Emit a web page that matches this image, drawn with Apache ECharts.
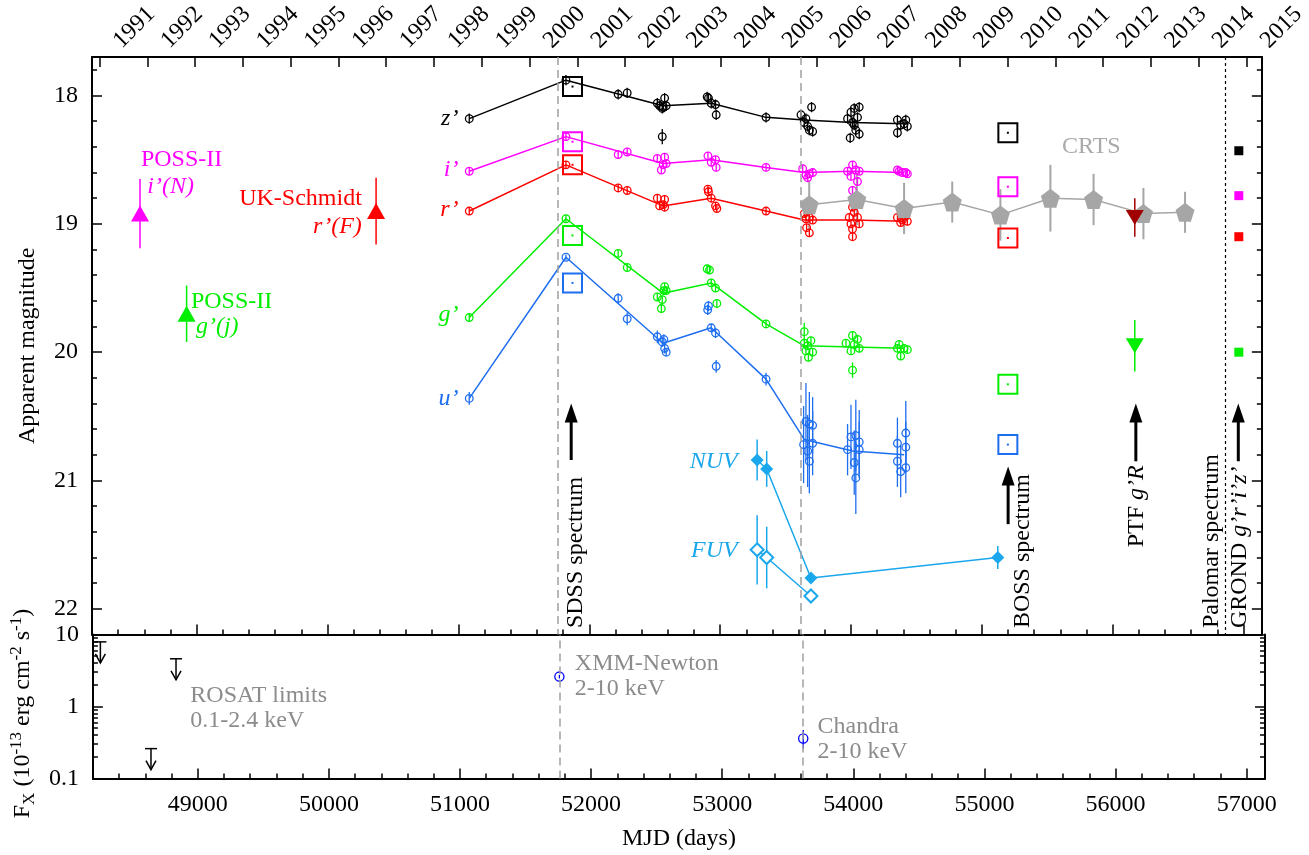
<!DOCTYPE html>
<html>
<head>
<meta charset="utf-8">
<script src="https://cdn.jsdelivr.net/npm/echarts@6/dist/echarts.min.js"></script>
<style>
html, body { margin: 0; background: #fff; }
#chart { width: 1309px; height: 855px; }
</style>
</head>
<body>
<div id="chart"></div>
<script>
// ---- data (MJD, magnitude [, error]) ----
const years = [1991, 1992, 1993, 1994, 1995, 1996, 1997, 1998, 1999, 2000, 2001, 2002, 2003,
  2004, 2005, 2006, 2007, 2008, 2009, 2010, 2011, 2012, 2013, 2014, 2015]
const magTicks = [18, 19, 20, 21, 22]
const fluxTicks = [0.1, 1, 10]
const mjdTicks = [49000, 50000, 51000, 52000, 53000, 54000, 55000, 56000, 57000]

// SDSS photometry
const sdssZ = [[51083, 18.18], [51822, 17.88], [52221, 17.99], [52290, 17.98],
  [52520, 18.06], [52576, 18.02], [52558, 18.10], [52588, 18.08], [52538, 18.08], [52565, 18.09], [52558, 18.32, 0.06],
  [52901, 18.01], [52911, 18.02], [52932, 18.06], [52965, 18.07], [52970, 18.15],
  [53351, 18.17],
  [53618, 18.15], [53656, 18.18], [53643, 18.21], [53669, 18.24], [53682, 18.27], [53707, 18.28], [53699, 18.09],
  [53974, 18.18], [54000, 18.13], [54025, 18.10], [54063, 18.09], [54050, 18.17], [54025, 18.23], [54063, 18.30], [53994, 18.33], [54037, 18.27], [54012, 18.21],
  [54355, 18.19], [54419, 18.19], [54380, 18.23], [54355, 18.29], [54431, 18.24], [54406, 18.22]]
const lineZ = [[51083, 18.18], [51822, 17.88], [52564, 18.08], [52932, 18.06], [53351, 18.17], [53643, 18.19], [54012, 18.21], [54406, 18.22]]

const sdssI = [[51083, 18.59], [51822, 18.32], [52221, 18.46], [52290, 18.44],
  [52520, 18.49], [52576, 18.48], [52551, 18.58], [52588, 18.53], [52565, 18.54],
  [52907, 18.47], [52932, 18.52], [52965, 18.50], [52970, 18.56],
  [53351, 18.56],
  [53631, 18.57], [53656, 18.62], [53682, 18.61], [53707, 18.60], [53669, 18.64],
  [53974, 18.59], [54012, 18.54], [54037, 18.58], [54063, 18.59], [54000, 18.63], [54050, 18.67], [54012, 18.74],
  [54355, 18.58], [54393, 18.60], [54419, 18.60], [54431, 18.61], [54368, 18.59]]
const lineI = [[51083, 18.59], [51822, 18.32], [52564, 18.53], [52932, 18.50], [53351, 18.56], [53643, 18.60], [54012, 18.59], [54406, 18.60]]

const sdssR = [[51083, 18.90], [51822, 18.54], [52221, 18.72], [52290, 18.74],
  [52520, 18.80], [52576, 18.81], [52538, 18.86], [52576, 18.87], [52565, 18.85],
  [52907, 18.73], [52911, 18.75], [52932, 18.80], [52965, 18.86], [52975, 18.88],
  [53351, 18.90],
  [53643, 18.92], [53656, 18.96], [53682, 18.95], [53707, 18.97], [53661, 19.03], [53682, 19.07],
  [54012, 18.87], [54025, 18.91], [53987, 18.95], [54050, 18.95], [54000, 19.00], [54063, 19.00], [54012, 19.04], [54012, 19.10],
  [54355, 18.95], [54393, 18.97], [54419, 18.94], [54431, 18.98], [54380, 18.99]]
const lineR = [[51083, 18.90], [51822, 18.54], [52564, 18.86], [52932, 18.80], [53351, 18.90], [53643, 18.97], [54012, 18.97], [54406, 18.98]]

const sdssG = [[51083, 19.73], [51822, 18.96], [52221, 19.23], [52290, 19.34],
  [52576, 19.49], [52570, 19.52], [52520, 19.57], [52558, 19.59], [52551, 19.66], [52588, 19.52],
  [52901, 19.35], [52919, 19.36], [52932, 19.46], [52965, 19.50], [52975, 19.62],
  [53351, 19.78],
  [53643, 19.84, 0.07], [53643, 19.93], [53669, 19.95], [53694, 19.91], [53656, 19.99], [53675, 20.04], [53707, 20.00],
  [53962, 19.93], [54012, 19.87], [54050, 19.90], [54025, 19.94], [54000, 19.99], [54063, 19.97], [54012, 20.14, 0.06],
  [54368, 19.94], [54406, 19.97], [54380, 20.03], [54431, 19.98], [54355, 19.97]]
const lineG = [[51083, 19.73], [51822, 18.96], [52564, 19.54], [52932, 19.46], [53351, 19.78], [53643, 19.95], [54012, 19.96], [54406, 19.97]]

const sdssU = [[51083, 20.36, 0.05], [51822, 19.26, 0.02], [52221, 19.58, 0.04], [52290, 19.74, 0.05],
  [52520, 19.88, 0.05], [52558, 19.92, 0.04], [52576, 19.97, 0.04], [52588, 20.00, 0.03], [52570, 19.90, 0.04],
  [52911, 19.64, 0.04], [52905, 19.67, 0.04], [52932, 19.81, 0.03], [52965, 19.85, 0.04], [52970, 20.11, 0.05],
  [53351, 20.21, 0.05],
  [53656, 20.54, 0.30], [53682, 20.56, 0.25], [53707, 20.57, 0.22], [53638, 20.72, 0.30], [53707, 20.71, 0.25], [53669, 20.77, 0.28], [53682, 20.85, 0.25],
  [54000, 20.66, 0.25], [54037, 20.65, 0.28], [54063, 20.70, 0.25], [53974, 20.76, 0.20], [54063, 20.76, 0.22], [54025, 20.86, 0.25], [54037, 20.98, 0.28],
  [54355, 20.71, 0.20], [54419, 20.63, 0.25], [54419, 20.74, 0.20], [54355, 20.85, 0.20], [54419, 20.90, 0.20], [54380, 20.93, 0.20]]
const lineU = [[51083, 20.36], [51822, 19.26], [52564, 19.93], [52932, 19.81], [53351, 20.21], [53643, 20.68], [54012, 20.77], [54406, 20.80]]

// synthetic magnitudes from the SDSS and BOSS spectra
const specZ = [[51872, 17.93], [55199, 18.29]]
const specI = [[51872, 18.36], [55199, 18.71]]
const specR = [[51872, 18.54], [55199, 19.11]]
const specG = [[51872, 19.09], [55199, 20.25]]
const specU = [[51872, 19.46], [55199, 20.72]]

// GROND
const grondZ = [[56964, 18.43]]
const grondI = [[56964, 18.78]]
const grondR = [[56964, 19.10]]
const grondG = [[56964, 20.00]]

// photographic plates
const possI = [[48567, 18.92, 0.27]]
const ukR = [[50371, 18.90, 0.26]]
const possG = [[48923, 19.70, 0.22]]

// CRTS
const crts = [[53681, 18.85, 0.19], [54045, 18.81, 0.20], [54406, 18.88, 0.20], [54774, 18.83, 0.16], [55142, 18.93, 0.20],
  [55524, 18.80, 0.26], [55854, 18.81, 0.20], [56235, 18.92, 0.20], [56553, 18.91, 0.16]]

// PTF
const ptfR = [[56169, 18.95, 0.15]]
const ptfG = [[56169, 19.95, 0.20]]

// GALEX
const nuv = [[53283, 20.84, 0.16], [53356, 20.91, 0.14], [53694, 21.76, 0.03], [55122, 21.60, 0.09]]
const fuv = [[53283, 21.54, 0.27], [53356, 21.60, 0.24], [53694, 21.90, 0.03]]

// X-ray flux (1e-13 erg/cm2/s): MJD, value, low, high
const xmm = [[51758, 2.6, 2.45, 2.75]]
const chandra = [[53618, 0.36, 0.26, 0.47]]
const rosatLimits = [[48257, 7.9], [48643, 0.26], [48834, 4.6]]

// spectra / epochs: MJD, arrow base, arrow tip
const specArrows = [[51862, 20.84, 20.40], [55201, 21.34, 20.89], [56177, 20.85, 20.40], [56960, 20.85, 20.40]]
const xmmDate = 51758
const chandraDate = 53613
const palomarDate = 56858

// ---- style ----
const FONT = '"Liberation Serif", "Times New Roman", serif'
const zc = "#000000", ic = "#ff00ff", rc = "#ff0000", gc = "#00ee00", uc = "#1e6ef0"
const uvc = "#1aa7ec", crtsc = "#a6a6a6", ptfc = "#a00000", xc = "#0000ff", notec = "#8c8c8c"

const X0 = 48200, X1 = 57140
const minor200 = []
for (let v = X0; v <= 57100; v += 200) minor200.push(v)
const minorMag = []
for (let i = 0; i <= 22; i++) minorMag.push(Math.round((17.8 + 0.2 * i) * 10) / 10)
const minorFlux = [0.2, 0.3, 0.4, 0.5, 0.6, 0.7, 0.8, 0.9, 2, 3, 4, 5, 6, 7, 8, 9]
const yearTicks = years.map((y) => 48257 + (y - 1991) * 365.25)
const LABEL_SHIFT = 72
const yearLabels = yearTicks.map((v) => v + LABEL_SHIFT)

const frame = { show: true, onZero: false, lineStyle: { color: "#000", width: 2 } }
function ax(base, ticks, len, line, extra) {
  return Object.assign({
    type: "value",
    splitLine: { show: false },
    axisLine: line ? frame : { show: false, onZero: false },
    axisTick: { show: true, inside: true, length: len, customValues: ticks, lineStyle: { color: "#000", width: 1.5 } },
    axisLabel: { show: false }
  }, base, extra || {})
}
const lab = { show: true, color: "#000", fontFamily: FONT, fontSize: 24 }

const xAxes = [
  ax({ gridIndex: 0, position: "bottom", min: X0, max: X1 }, mjdTicks, 10, true),
  ax({ gridIndex: 0, position: "bottom", min: X0, max: X1 }, minor200, 5, false),
  ax({ gridIndex: 0, position: "top", min: X0, max: X1 }, yearTicks, 10, true, {
    axisLabel: Object.assign({}, lab, {
      customValues: yearLabels, rotate: -45, margin: 21, verticalAlign: "top",
      formatter: (v) => String(Math.round((v - LABEL_SHIFT - 48257) / 365.25) + 1991)
    })
  }),
  ax({ gridIndex: 1, position: "bottom", min: X0, max: X1 }, mjdTicks, 10, true, {
    axisLabel: Object.assign({}, lab, { customValues: mjdTicks, margin: 14, formatter: (v) => String(v) }),
    name: "MJD (days)", nameLocation: "middle", nameGap: 48,
    nameTextStyle: { color: "#000", fontFamily: FONT, fontSize: 24 }
  }),
  ax({ gridIndex: 1, position: "bottom", min: X0, max: X1 }, minor200, 5, false)
]

const magBase = { gridIndex: 0, min: 17.7, max: 22.2, inverse: true }
const fluxBase = { gridIndex: 1, type: "log", logBase: 10, min: 0.1, max: 10 }
const yAxes = [
  ax(Object.assign({ position: "left" }, magBase), magTicks, 10, true, {
    axisLabel: Object.assign({}, lab, { customValues: magTicks, margin: 14 }),
    name: "Apparent magnitude", nameLocation: "middle", nameGap: 52, nameRotate: 90,
    nameTextStyle: { color: "#000", fontFamily: FONT, fontSize: 24 }
  }),
  ax(Object.assign({ position: "left" }, magBase), minorMag, 5, false),
  ax(Object.assign({ position: "right" }, magBase), magTicks, 10, true),
  ax(Object.assign({ position: "right" }, magBase), minorMag, 5, false),
  ax(Object.assign({ position: "left" }, fluxBase), fluxTicks, 10, true, {
    type: "log",
    axisLabel: Object.assign({}, lab, {
      customValues: fluxTicks, margin: 14,
      formatter: (v) => (v >= 1 ? String(Math.round(v)) : String(+v.toFixed(2)))
    }),
    name: "F{sub|X} (10{sup|-13} erg cm{sup|-2} s{sup|-1})",
    nameLocation: "middle", nameGap: 50, nameRotate: 90,
    nameTextStyle: {
      color: "#000", fontFamily: FONT, fontSize: 24, lineHeight: 30, padding: [0, 14, 0, 0],
      rich: {
        sub: { fontFamily: FONT, fontSize: 17, lineHeight: 15, verticalAlign: "bottom", color: "#000" },
        sup: { fontFamily: FONT, fontSize: 17, lineHeight: 15, verticalAlign: "top", color: "#000" }
      }
    }
  }),
  ax(Object.assign({ position: "left" }, fluxBase), minorFlux, 5, false, { type: "log" }),
  ax(Object.assign({ position: "right" }, fluxBase), fluxTicks, 10, true, { type: "log" }),
  ax(Object.assign({ position: "right" }, fluxBase), minorFlux, 5, false, { type: "log" })
]

// ---- series builders ----
function lineSeries(data, color, extra) {
  return Object.assign({
    type: "line", xAxisIndex: 0, yAxisIndex: 0, data, symbol: "none",
    lineStyle: { color, width: 1.5 }, itemStyle: { color }, z: 2, silent: true
  }, extra || {})
}

// open circle with vertical error bar; data rows [x, value, low, high]
function circSeries(rows, color, xi, yi, r, extra) {
  return Object.assign({
    type: "custom", xAxisIndex: xi, yAxisIndex: yi, silent: true, z: 3,
    data: rows,
    renderItem(params, api) {
      const x = api.value(0)
      const c = api.coord([x, api.value(1)])
      const a = api.coord([x, api.value(2)])
      const b = api.coord([x, api.value(3)])
      return {
        type: "group",
        children: [
          { type: "line", shape: { x1: a[0], y1: a[1], x2: b[0], y2: b[1] }, style: { stroke: color, lineWidth: 1.3 } },
          { type: "circle", shape: { cx: c[0], cy: c[1], r }, style: { fill: "none", stroke: color, lineWidth: 1.3 } }
        ]
      }
    }
  }, extra || {})
}
function magRows(pts, err) {
  return pts.map((p) => {
    const e = p[2] != null ? p[2] : err
    return [p[0], p[1], p[1] - e, p[1] + e]
  })
}

// vertical error bars; data rows [x, value, err]
function errSeries(pts, color, width, xi, yi) {
  return {
    type: "custom", xAxisIndex: xi || 0, yAxisIndex: yi || 0, silent: true, z: 2,
    data: pts.map((p) => [p[0], p[1] - p[2], p[1] + p[2]]),
    renderItem(params, api) {
      const a = api.coord([api.value(0), api.value(1)])
      const b = api.coord([api.value(0), api.value(2)])
      return { type: "line", shape: { x1: a[0], y1: a[1], x2: b[0], y2: b[1] }, style: { stroke: color, lineWidth: width } }
    }
  }
}

// open square with a central dot
function squareSeries(pts, color) {
  return {
    type: "custom", xAxisIndex: 0, yAxisIndex: 0, silent: true, z: 4,
    data: pts,
    renderItem(params, api) {
      const c = api.coord([api.value(0), api.value(1)])
      return {
        type: "group",
        children: [
          { type: "rect", shape: { x: c[0] - 9.5, y: c[1] - 9.5, width: 19, height: 19 }, style: { fill: "none", stroke: color, lineWidth: 2 } },
          { type: "rect", shape: { x: c[0] - 1, y: c[1] - 1, width: 2, height: 2 }, style: { fill: color } }
        ]
      }
    }
  }
}

function scatter(pts, color, symbol, size, extra) {
  return Object.assign({
    type: "scatter", xAxisIndex: 0, yAxisIndex: 0, silent: true, z: 4,
    data: pts.map((p) => [p[0], p[1]]), symbol, symbolSize: size, itemStyle: { color, opacity: 1 }
  }, extra || {})
}

const pentagon = "path://M0,-1L0.951,-0.309L0.588,0.809L-0.588,0.809L-0.951,-0.309Z"

const dashed = { type: [8, 5], color: "#a0a0a0", width: 1.5 }

// text annotations, placed in data coordinates
const notesTop = [
  { t: "z’", x: 51000, y: 18.18, c: zc, it: true, al: "right" },
  { t: "i’", x: 51000, y: 18.58, c: ic, it: true, al: "right" },
  { t: "r’", x: 51000, y: 18.89, c: rc, it: true, al: "right" },
  { t: "g’", x: 51000, y: 19.71, c: gc, it: true, al: "right" },
  { t: "u’", x: 51000, y: 20.36, c: uc, it: true, al: "right" },
  { t: "POSS-II", x: 48574, y: 18.50, c: ic },
  { t: "i’(N)", x: 48623, y: 18.71, c: ic, it: true },
  { t: "UK-Schmidt", x: 50262, y: 18.80, c: rc, al: "right" },
  { t: "r’(F)", x: 50262, y: 19.02, c: rc, it: true, al: "right" },
  { t: "POSS-II", x: 48956, y: 19.61, c: gc },
  { t: "g’(j)", x: 48994, y: 19.80, c: gc, it: true },
  { t: "CRTS", x: 55837, y: 18.40, c: "#aaaaaa", al: "center" },
  { t: "NUV", x: 53135, y: 20.85, c: uvc, it: true, al: "right" },
  { t: "FUV", x: 53135, y: 21.55, c: uvc, it: true, al: "right" },
  { t: "SDSS spectrum", x: 51893, y: 22.15, rot: true },
  { t: "BOSS spectrum", x: 55315, y: 22.15, rot: true },
  { t: "PTF {i|g’R}", x: 56184, y: 21.52, rot: true },
  { t: "Palomar spectrum", x: 56756, y: 22.15, rot: true },
  { t: "GROND {i|g’r’i’z’}", x: 56970, y: 22.15, rot: true }
]
const notesBottom = [
  { t: "XMM-Newton", x: 51876, y: 3.9, c: notec },
  { t: "2-10 keV", x: 51876, y: 1.78, c: notec },
  { t: "Chandra", x: 53727, y: 0.527, c: notec },
  { t: "2-10 keV", x: 53727, y: 0.237, c: notec },
  { t: "ROSAT limits", x: 48943, y: 1.41, c: notec },
  { t: "0.1-2.4 keV", x: 48943, y: 0.633, c: notec }
]
function noteSeries(list, xi, yi) {
  return {
    type: "custom", xAxisIndex: xi, yAxisIndex: yi, silent: true, z: 10,
    data: list.map((n) => [n.x, n.y]),
    renderItem(params, api) {
      const n = list[params.dataIndex]
      const p = api.coord([api.value(0), api.value(1)])
      const color = n.c || "#000"
      return {
        type: "text", x: p[0], y: p[1], rotation: n.rot ? Math.PI / 2 : 0,
        style: {
          text: n.t, fill: color,
          font: (n.it ? "italic " : "") + "24px " + FONT,
          align: n.al || "left", verticalAlign: "middle",
          textAlign: n.al || "left", textVerticalAlign: "middle",
          rich: { i: { font: "italic 24px " + FONT, fill: color } }
        }
      }
    }
  }
}

const series = [
  lineSeries(lineZ, zc, {
    markLine: {
      silent: true, symbol: ["none", "none"], label: { show: false }, animation: false,
      data: [
        { xAxis: xmmDate, lineStyle: dashed },
        { xAxis: chandraDate, lineStyle: dashed },
        { xAxis: palomarDate, lineStyle: { type: [3, 3], color: "#000", width: 1.2 } }
      ]
    }
  }),
  lineSeries(lineI, ic),
  lineSeries(lineR, rc),
  lineSeries(lineG, gc),
  lineSeries(lineU, uc),
  circSeries(magRows(sdssZ, 0.04), zc, 0, 0, 3.8),
  circSeries(magRows(sdssI, 0.03), ic, 0, 0, 3.8),
  circSeries(magRows(sdssR, 0.03), rc, 0, 0, 3.8),
  circSeries(magRows(sdssG, 0.03), gc, 0, 0, 3.8),
  circSeries(magRows(sdssU, 0.04), uc, 0, 0, 3.8),
  squareSeries(specZ, zc),
  squareSeries(specI, ic),
  squareSeries(specR, rc),
  squareSeries(specG, gc),
  squareSeries(specU, uc),
  scatter(grondZ, zc, "rect", 9),
  scatter(grondI, ic, "rect", 9),
  scatter(grondR, rc, "rect", 9),
  scatter(grondG, gc, "rect", 9),
  errSeries(possI, ic, 1.5),
  errSeries(ukR, rc, 1.5),
  errSeries(possG, gc, 1.5),
  scatter(possI, ic, "triangle", [18, 16]),
  scatter(ukR, rc, "triangle", [18, 16]),
  scatter(possG, gc, "triangle", [18, 16]),
  errSeries(crts, crtsc, 2),
  lineSeries(crts.map((p) => [p[0], p[1]]), crtsc, {
    symbol: pentagon, symbolSize: 19, showSymbol: true, z: 3,
    itemStyle: { color: crtsc }, lineStyle: { color: crtsc, width: 1.5 }
  }),
  errSeries(ptfR, ptfc, 1.5),
  errSeries(ptfG, gc, 1.5),
  scatter(ptfR, ptfc, "triangle", [18, 15], { symbolRotate: 180 }),
  scatter(ptfG, gc, "triangle", [18, 15], { symbolRotate: 180 }),
  errSeries(nuv, uvc, 1.5),
  errSeries(fuv, uvc, 1.5),
  lineSeries(nuv.map((p) => [p[0], p[1]]), uvc, {
    symbol: "diamond", symbolSize: 13, showSymbol: true, z: 3,
    itemStyle: { color: uvc }, lineStyle: { color: uvc, width: 1.5 }
  }),
  lineSeries(fuv.map((p) => [p[0], p[1]]), uvc, {
    symbol: "emptyDiamond", symbolSize: 13, showSymbol: true, z: 3,
    itemStyle: { color: uvc, borderWidth: 1.5 }, lineStyle: { color: uvc, width: 1.5 }
  }),
  {
    type: "custom", xAxisIndex: 0, yAxisIndex: 0, silent: true, z: 5,
    data: specArrows,
    renderItem(params, api) {
      const x = api.value(0)
      const b = api.coord([x, api.value(1)])
      const t = api.coord([x, api.value(2)])
      return {
        type: "group",
        children: [
          { type: "line", shape: { x1: b[0], y1: b[1], x2: t[0], y2: t[1] + 16 }, style: { stroke: "#000", lineWidth: 3 } },
          { type: "polygon", shape: { points: [[t[0], t[1]], [t[0] - 6.5, t[1] + 19], [t[0] + 6.5, t[1] + 19]] }, style: { fill: "#000" } }
        ]
      }
    }
  },
  noteSeries(notesTop, 0, 0),

  // X-ray panel
  circSeries(xmm.concat(chandra), xc, 3, 4, 4.6, {
    markLine: {
      silent: true, symbol: ["none", "none"], label: { show: false }, animation: false,
      data: [{ xAxis: xmmDate, lineStyle: dashed }, { xAxis: chandraDate, lineStyle: dashed }]
    }
  }),
  {
    type: "custom", xAxisIndex: 3, yAxisIndex: 4, silent: true, z: 4,
    data: rosatLimits,
    renderItem(params, api) {
      const c = api.coord([api.value(0), api.value(1)])
      return {
        type: "group",
        children: [
          { type: "line", shape: { x1: c[0] - 6, y1: c[1], x2: c[0] + 6, y2: c[1] }, style: { stroke: "#000", lineWidth: 1.5 } },
          { type: "line", shape: { x1: c[0], y1: c[1], x2: c[0], y2: c[1] + 21 }, style: { stroke: "#000", lineWidth: 1.5 } },
          { type: "polyline", shape: { points: [[c[0] - 5, c[1] + 12], [c[0], c[1] + 21], [c[0] + 5, c[1] + 12]] }, style: { stroke: "#000", lineWidth: 1.5, fill: "none" } }
        ]
      }
    }
  },
  noteSeries(notesBottom, 3, 4)
]

const chart = echarts.init(document.getElementById("chart"))
chart.setOption({
  animation: false,
  backgroundColor: "#fff",
  textStyle: { fontFamily: FONT },
  grid: [
    { left: 92, top: 51, width: 1173, height: 583.5 },
    { left: 92, top: 634.5, width: 1173, height: 144 }
  ],
  xAxis: xAxes,
  yAxis: yAxes,
  series
})
</script>
</body>
</html>
